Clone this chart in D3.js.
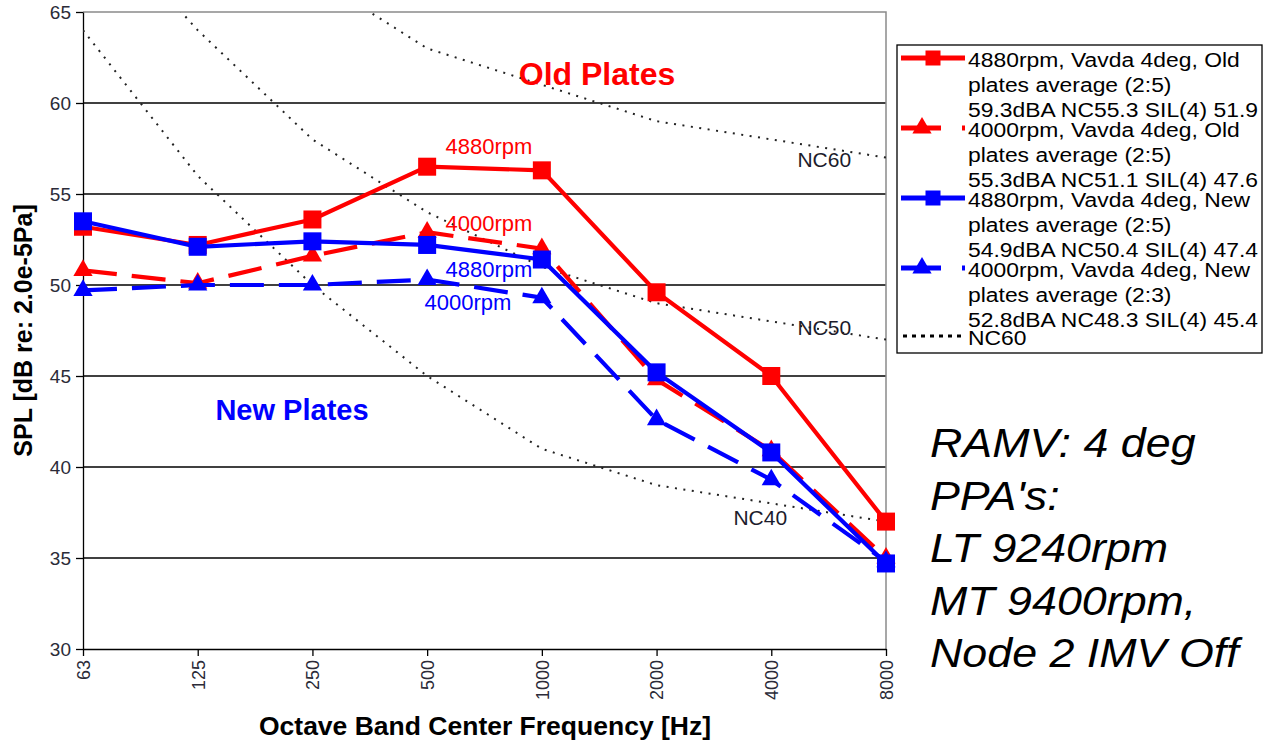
<!DOCTYPE html>
<html lang="en">
  <head>
    <title>SPL by octave band: old vs new plates</title>
    <meta charset="utf-8">
    <script src="https://d3js.org/d3.v7.min.js"></script>
    <style>
      body { margin: 0; background: #fff; }
      svg { display: block; font-family: 'Liberation Sans', Arial, sans-serif; }
    </style>
  </head>
  <body>
    <svg></svg>

    <script>
      // data
      const freqs = ['63', '125', '250', '500', '1000', '2000', '4000', '8000']
      const yTicks = [30, 35, 40, 45, 50, 55, 60, 65]

      const old4880 = [53.2, 52.2, 53.6, 56.5, 56.3, 49.6, 45.0, 37.0]
      const old4000 = [50.8, 50.1, 51.6, 52.9, 52.0, 44.8, 40.9, 35.0]
      const new4880 = [53.5, 52.1, 52.4, 52.2, 51.4, 45.2, 40.8, 34.7]
      const new4000 = [49.7, 50.0, 50.0, 50.3, 49.3, 42.6, 39.3, 34.8]

      // noise criteria curves
      const nc40 = [64, 56, 50, 45, 41, 39, 38, 37]
      const nc50 = [71, 64, 58, 54, 51, 49, 48, 47]
      const nc60 = [77, 71, 67, 63, 61, 59, 58, 57]
      const ncNames = ['NC40', 'NC50', 'NC60']

      const legendLabels = [
        ['4880rpm, Vavda 4deg, Old', 'plates average (2:5)', '59.3dBA NC55.3 SIL(4) 51.9'],
        ['4000rpm, Vavda 4deg, Old', 'plates average (2:5)', '55.3dBA NC51.1 SIL(4) 47.6'],
        ['4880rpm, Vavda 4deg, New', 'plates average (2:5)', '54.9dBA NC50.4 SIL(4) 47.4'],
        ['4000rpm, Vavda 4deg, New', 'plates average (2:3)', '52.8dBA NC48.3 SIL(4) 45.4'],
        ['NC60']
      ]

      const notes = ['RAMV: 4 deg', "PPA's:", 'LT 9240rpm', 'MT 9400rpm,', 'Node 2 IMV Off']

      const RED = '#ff0000'
      const BLUE = '#0000ff'

      const series = [
        { values: old4880, color: RED, dash: null, marker: 'square' },
        { values: old4000, color: RED, dash: '34,15', marker: 'triangle' },
        { values: new4880, color: BLUE, dash: null, marker: 'square' },
        { values: new4000, color: BLUE, dash: '34,15', marker: 'triangle' }
      ]

      const svg = d3.select('svg')
        .attr('width', 1270)
        .attr('height', 742)

      svg.append('rect')
        .attr('width', 1270)
        .attr('height', 742)
        .attr('fill', '#fff')

      const x = d3.scalePoint()
        .domain(freqs)
        .range([83, 886])

      const y = d3.scaleLinear()
        .domain([30, 65])
        .range([649, 12])

      const [x0, x1] = x.range()

      // gridlines
      svg.append('g')
        .selectAll('line')
        .data(yTicks.filter(v => v > 30 && v < 65))
        .join('line')
          .attr('x1', x0)
          .attr('x2', x1)
          .attr('y1', d => y(d))
          .attr('y2', d => y(d))
          .attr('stroke', '#000')
          .attr('stroke-width', 1.3)

      // frame top / right
      svg.append('path')
        .attr('d', `M${x0},${y(65)}H${x1}V${y(30)}`)
        .attr('fill', 'none')
        .attr('stroke', '#8a8a8a')
        .attr('stroke-width', 1.5)

      // axes
      const yAxis = svg.append('g')
        .attr('transform', `translate(${x0},0)`)
        .call(d3.axisLeft(y).tickValues(yTicks).tickSize(7).tickSizeOuter(0).tickPadding(5))
        .attr('font-size', 19)
        .attr('font-family', null)
      yAxis.selectAll('text').attr('fill', '#2b2b38')
      yAxis.selectAll('line, path').attr('stroke', '#000').attr('stroke-width', 1.3)

      const xAxis = svg.append('g')
        .attr('transform', `translate(0,${y(30)})`)
        .call(d3.axisBottom(x).tickSize(7).tickSizeOuter(0))
        .attr('font-size', 18)
        .attr('font-family', null)
      xAxis.selectAll('line, path').attr('stroke', '#000').attr('stroke-width', 1.3)
      xAxis.selectAll('text')
        .attr('fill', '#2b2b38')
        .attr('y', 0)
        .attr('x', -11)
        .attr('dy', '0.35em')
        .attr('transform', 'rotate(-90)')
        .attr('text-anchor', 'end')

      // axis titles
      svg.append('text')
        .attr('transform', `translate(32,${(y(30) + y(65)) / 2}) rotate(-90)`)
        .attr('text-anchor', 'middle')
        .attr('font-size', 25)
        .attr('font-weight', 'bold')
        .text('SPL [dB re: 2.0e-5Pa]')

      svg.append('text')
        .attr('x', 485)
        .attr('y', 735)
        .attr('text-anchor', 'middle')
        .attr('font-size', 26.5)
        .attr('font-weight', 'bold')
        .text('Octave Band Center Frequency [Hz]')

      // NC curves, clipped to the plot area
      svg.append('clipPath')
        .attr('id', 'plot-clip')
        .append('rect')
          .attr('x', x0)
          .attr('y', y(65))
          .attr('width', x1 - x0)
          .attr('height', y(30) - y(65))

      const line = d3.line()
        .x((d, i) => x(freqs[i]))
        .y(d => y(d))

      svg.append('g')
        .attr('clip-path', 'url(#plot-clip)')
        .selectAll('path')
        .data([nc40, nc50, nc60])
        .join('path')
          .attr('d', line)
          .attr('fill', 'none')
          .attr('stroke', '#222')
          .attr('stroke-width', 2)
          .attr('stroke-dasharray', '2,6.5')

      // NC labels
      const ncLabelPos = [
        { x: x('4000') - 11, y: y(nc40[6]) + 22 },
        { x: x('4000') + 53, y: y(nc50[6]) + 14 },
        { x: x('4000') + 53, y: y(nc60[6]) + 28 }
      ]
      svg.append('g')
        .selectAll('text')
        .data(ncNames)
        .join('text')
          .attr('x', (d, i) => ncLabelPos[i].x)
          .attr('y', (d, i) => ncLabelPos[i].y)
          .attr('text-anchor', 'middle')
          .attr('font-size', 21)
          .attr('fill', '#1c1c2c')
          .text(d => d)

      // series
      const triangle = d3.symbol(d3.symbolTriangle, 160)

      function drawMarker(sel, kind, color, s) {
        if (kind === 'square') {
          sel.append('rect')
            .attr('x', -s / 2)
            .attr('y', -s / 2)
            .attr('width', s)
            .attr('height', s)
            .attr('fill', color)
        } else {
          sel.append('path')
            .attr('d', triangle)
            .attr('fill', color)
        }
      }

      series.forEach(s => {
        const g = svg.append('g')
        g.append('path')
          .datum(s.values)
          .attr('d', line)
          .attr('fill', 'none')
          .attr('stroke', s.color)
          .attr('stroke-width', 4.2)
          .attr('stroke-dasharray', s.dash)
        g.selectAll('g')
          .data(s.values)
          .join('g')
            .attr('transform', (d, i) => `translate(${x(freqs[i])},${y(d)})`)
            .each(function () { drawMarker(d3.select(this), s.marker, s.color, 18) })
      })

      // annotations
      const annotations = [
        { text: 'Old Plates', x: 597, y: 85, size: 32, color: RED, bold: true },
        { text: 'New Plates', x: 292, y: 420, size: 29, color: BLUE, bold: true },
        { text: '4880rpm', x: 489, y: 154, size: 22, color: RED },
        { text: '4000rpm', x: 489, y: 231, size: 22, color: RED },
        { text: '4880rpm', x: 489, y: 277, size: 22, color: BLUE },
        { text: '4000rpm', x: 468, y: 310, size: 22, color: BLUE }
      ]
      svg.append('g')
        .selectAll('text')
        .data(annotations)
        .join('text')
          .attr('x', d => d.x)
          .attr('y', d => d.y)
          .attr('text-anchor', 'middle')
          .attr('font-size', d => d.size)
          .attr('font-weight', d => d.bold ? 'bold' : null)
          .attr('fill', d => d.color)
          .text(d => d.text)

      // legend
      const legend = svg.append('g')
        .attr('transform', 'translate(897,45)')

      legend.append('rect')
        .attr('width', 365)
        .attr('height', 308)
        .attr('fill', '#fff')
        .attr('stroke', '#000')
        .attr('stroke-width', 1.3)

      const entries = legend.selectAll('g')
        .data(legendLabels)
        .join('g')
          .attr('transform', (d, i) => `translate(0,${22 + i * 70 - (i === 4 ? 2 : 0)})`)

      entries.each(function (lines, i) {
        const e = d3.select(this)
        const s = series[i]
        if (s) {
          e.append('line')
            .attr('x1', 4)
            .attr('x2', 68)
            .attr('y1', -9)
            .attr('y2', -9)
            .attr('stroke', s.color)
            .attr('stroke-width', 5)
            .attr('stroke-dasharray', s.dash ? '40,21' : null)
          const m = e.append('g')
            .attr('transform', `translate(${s.marker === 'square' ? 36 : 25},-9)`)
          drawMarker(m, s.marker, s.color, 15)
        } else {
          e.append('line')
            .attr('x1', 6)
            .attr('x2', 66)
            .attr('y1', -9)
            .attr('y2', -9)
            .attr('stroke', '#000')
            .attr('stroke-width', 3)
            .attr('stroke-dasharray', '4,5')
        }
        e.selectAll('text')
          .data(lines)
          .join('text')
            .attr('transform', (d, j) => `translate(71,${j * 25}) scale(1.09,1)`)
            .attr('font-size', 21)
            .text(d => d)
      })

      // notes on the right
      svg.append('g')
        .selectAll('text')
        .data(notes)
        .join('text')
          .attr('transform', (d, i) => `translate(930,${457 + i * 52.5}) scale(1.12,1)`)
          .attr('font-size', 40)
          .attr('font-style', 'italic')
          .attr('fill', '#000')
          .text(d => d)
    </script>
  </body>
</html>
